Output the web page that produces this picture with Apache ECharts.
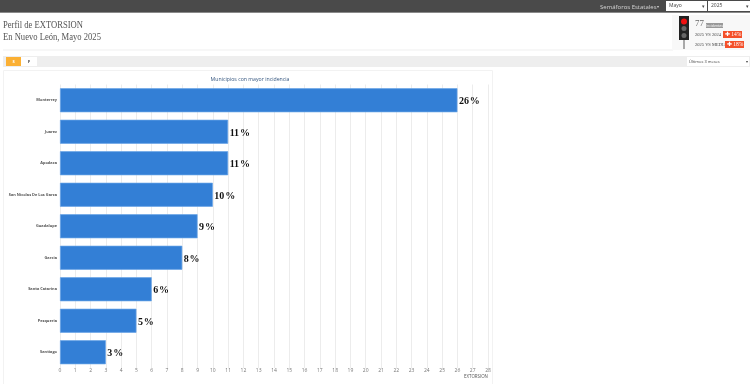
<!DOCTYPE html>
<html lang="en">
<head>
    <meta charset="UTF-8">
    <title>Perfil de EXTORSION</title>
    <script src="https://cdn.jsdelivr.net/npm/echarts@6/dist/echarts.min.js"></script>
    <style>
        html, body { margin: 0; padding: 0; background: #fff; overflow: hidden; }
    </style>
</head>
<body>
    <div id="main" style="width: 750px; height: 384px;"></div>
    <script>
        var municipios = ['Monterrey', 'Juarez', 'Apodaca', 'San Nicolas De Los Garza', 'Guadalupe', 'Garcia', 'Santa Catarina', 'Pesqueria', 'Santiago'];
        var valores = [26, 11, 11, 10, 9, 8, 6, 5, 3];
        var titulos = ['Perfil de EXTORSION', 'En Nuevo León, Mayo 2025'];
        var selectores = ['Mayo', '2025'];
        var comparativos = [['2025 VS 2024', '14%'], ['2025 VS MEDIA', '18%']];

        var serif = '"Liberation Serif", serif';
        var sans = '"Open Sans", sans-serif';

        function caja(x, y, w, h, fill, stroke) {
            return { type: 'rect', silent: true, shape: { x: x, y: y, width: w, height: h },
                style: { fill: fill, stroke: stroke || null, lineWidth: stroke ? 1 : 0 } };
        }
        function texto(x, y, t, font, color, align, sx) {
            return { type: 'text', silent: true, x: x, y: y, scaleX: sx || 1,
                style: { text: t, font: font, fill: color, align: align || 'left', verticalAlign: 'middle' } };
        }

        var fondo = [
            caja(0, 0, 750, 12, '#4a4a4a'),
            caja(0, 12, 750, 1, '#8a8a8a'),
            texto(600, 7, 'Semáforos Estatales', '6px ' + sans, '#d5d5d5'),
            texto(657, 6.5, '▾', '4px ' + sans, '#d5d5d5'),
            caja(666, 1, 41, 10, '#fff'),
            caja(708, 1, 42, 10, '#fff'),
            texto(669, 6, selectores[0], '5px ' + sans, '#444'),
            texto(711, 6, selectores[1], '5px ' + sans, '#444'),
            texto(705, 6.5, '▾', '5px ' + sans, '#444', 'right'),
            texto(749, 6.5, '▾', '5px ' + sans, '#444', 'right'),

            texto(3, 25, titulos[0], '11px ' + serif, '#555', 'left', 0.78),
            texto(3, 37.5, titulos[1], '11px ' + serif, '#555', 'left', 0.78),
            caja(3, 49.5, 670, 1, '#f0f0f0'),

            caja(672, 15, 78, 35, '#f8f8f8'),
            caja(683, 37, 2, 12, '#a8a8a8'),
            caja(679, 16, 10, 24, '#222'),
            { type: 'circle', silent: true, shape: { cx: 684, cy: 21.5, r: 3 }, style: { fill: '#f01010' } },
            { type: 'circle', silent: true, shape: { cx: 684, cy: 28.5, r: 2.5 }, style: { fill: '#666' } },
            { type: 'circle', silent: true, shape: { cx: 684, cy: 35.5, r: 2.5 }, style: { fill: '#666' } },
            texto(695, 24, '77', '9px ' + serif, '#666'),
            caja(706, 23, 17, 5, '#999'),
            texto(714.5, 25.5, 'Incidentes', '3.5px ' + sans, '#fff', 'center'),
            texto(695, 34.5, comparativos[0][0], '4.5px ' + serif, '#444'),
            caja(723, 31, 19, 7, '#f4502a'),
            texto(733, 34.5, '✚ ' + comparativos[0][1], '5.5px ' + serif, '#fff', 'center'),
            texto(695, 44.5, comparativos[1][0], '4.5px ' + serif, '#444'),
            caja(725, 41, 19, 7, '#f4502a'),
            texto(735, 44.5, '✚ ' + comparativos[1][1], '5.5px ' + serif, '#fff', 'center'),

            caja(3, 56, 747, 11, '#eeeeee'),
            caja(6, 57, 15, 9, '#fbb034'),
            caja(21, 57, 16, 9, '#fff'),
            texto(13.5, 61.5, 'S', 'bold 4px ' + sans, '#fff', 'center'),
            texto(29, 61.5, 'F', 'bold 4px ' + sans, '#333', 'center'),
            caja(687, 57, 57, 9, '#fff'),
            caja(744, 57, 5, 9, '#fff'),
            texto(689, 61.5, 'Últimos 3 meses', '4px ' + sans, '#444'),
            texto(746.5, 61.5, '▾', '3.5px ' + sans, '#444', 'center'),

            caja(3.5, 70.5, 489, 314, '#fff', '#f2f2f2')
        ];

        var chartDom = document.getElementById('main');
        var myChart = echarts.init(chartDom);
        var option;

        option = {
            animation: false,
            graphic: { elements: fondo.map(function (e) { e.z = -10; return e; }) },
            title: {
                text: 'Municipios con mayor incidencia',
                left: 245,
                top: 72,
                textAlign: 'center',
                textStyle: { fontSize: 5.2, fontWeight: 'normal', color: '#35567f', fontFamily: sans }
            },
            grid: { left: 60, top: 84.5, width: 428, height: 283.5 },
            xAxis: {
                type: 'value',
                min: 0,
                max: 28,
                interval: 1,
                name: 'EXTORSION',
                nameLocation: 'end',
                nameGap: -24,
                nameTextStyle: { fontSize: 4.4, color: '#555', fontFamily: sans, padding: [7, 0, 0, 0], verticalAlign: 'top' },
                axisLine: { show: false },
                axisTick: { show: false },
                axisLabel: { fontSize: 5, color: '#777', margin: 0, fontFamily: sans },
                splitLine: { show: true, lineStyle: { color: '#ececec', width: 1 } }
            },
            yAxis: {
                type: 'category',
                inverse: true,
                data: municipios,
                axisLine: { show: false },
                axisTick: { show: false },
                axisLabel: { fontSize: 3.9, color: '#555', fontWeight: 'bold', margin: 3, fontFamily: sans }
            },
            series: [{
                type: 'bar',
                data: valores,
                barWidth: 24,
                itemStyle: { color: '#337fd6', borderColor: '#69a5e8', borderWidth: 0.7 },
                label: {
                    show: true,
                    position: 'right',
                    distance: 1.5,
                    offset: [0, 1.5],
                    formatter: '{c}\u200A%',
                    fontFamily: serif,
                    fontWeight: 'bold',
                    fontSize: 10,
                    color: '#111'
                }
            }]
        };

        option && myChart.setOption(option);
    </script>
</body>
</html>
